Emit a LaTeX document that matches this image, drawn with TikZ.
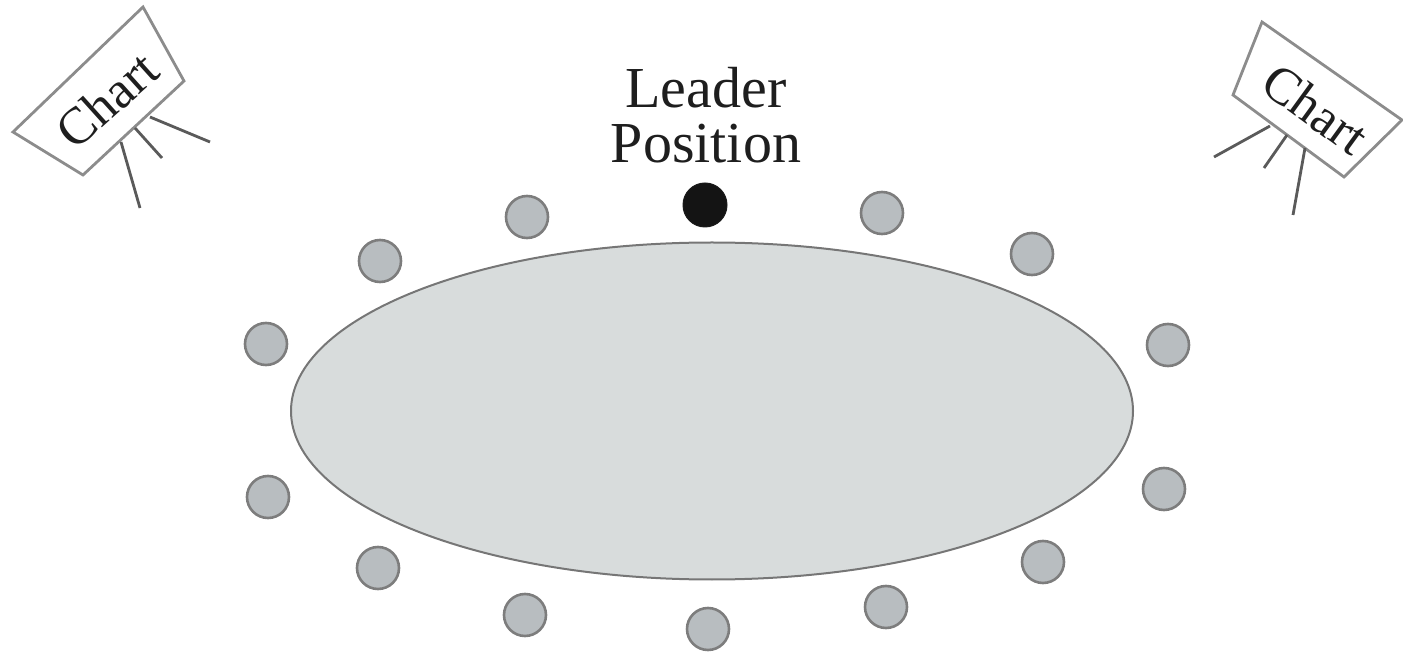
\documentclass[tikz,border=0pt]{standalone}
\usepackage{fontspec}
\setmainfont{Liberation Serif}
\definecolor{seatfill}{HTML}{B8BDC0}
\definecolor{seatdraw}{HTML}{7D7D7D}
\definecolor{tablefill}{HTML}{D8DCDC}
\definecolor{tabledraw}{HTML}{767676}
\definecolor{boxdraw}{HTML}{8C8C8C}
\definecolor{legdraw}{HTML}{5A5A5A}
\definecolor{txt}{HTML}{1E1E1E}
\tikzset{
  seat/.style={circle, draw=seatdraw, fill=seatfill, line width=2.6pt, minimum size=42pt, inner sep=0pt},
  leader/.style={circle, draw=black!90, fill=black!92, line width=1pt, minimum size=44pt, inner sep=0pt},
  chartbox/.style={draw=boxdraw, line width=2.8pt, line join=miter},
  chartleg/.style={draw=legdraw, line width=2.8pt},
  charttext/.style={text=txt, inner sep=0pt, font=\fontsize{52}{60}\selectfont},
}
\begin{document}
\begin{tikzpicture}[x=1pt,y=1pt]
\useasboundingbox (0,0) rectangle (1403,651);
% table
\draw[draw=tabledraw, fill=tablefill, line width=2pt] (712,240) ellipse [x radius=421, y radius=168.5];
% seats
\node[seat] (s1) at (266,307) {};
\node[seat] (s2) at (380,390) {};
\node[seat] (s3) at (527,434) {};
\node[leader] (lead) at (705,446) {};
\node[seat] (s4) at (882,438) {};
\node[seat] (s5) at (1032,397) {};
\node[seat] (s6) at (1168,306) {};
\node[seat] (s7) at (1164,162) {};
\node[seat] (s8) at (1043,89) {};
\node[seat] (s9) at (886,44) {};
\node[seat] (s10) at (708,22) {};
\node[seat] (s11) at (525,36) {};
\node[seat] (s12) at (378,83) {};
\node[seat] (s13) at (268,154) {};
% leader label
\node[text=txt, align=center, anchor=south, inner sep=0pt,
      font=\fontsize{58}{55}\selectfont] (lbl) at (706,488) {Leader\\Position};
% left chart
\draw[chartbox] (13,519) -- (143,644) -- (184,570) -- (83,476) -- cycle;
\node[charttext, rotate=42] (chartL) at (107,551) {Chart};
\draw[chartleg] (150,534) -- (210,509);
\draw[chartleg] (135,523) -- (162,493);
\draw[chartleg] (121,509) -- (140,443);
% right chart
\draw[chartbox] (1262,629) -- (1402,531) -- (1344,474) -- (1233,556) -- cycle;
\node[charttext, rotate=-36] (chartR) at (1316,542) {Chart};
\draw[chartleg] (1270,525) -- (1214,494);
\draw[chartleg] (1287,516) -- (1264,483);
\draw[chartleg] (1305,503) -- (1293,436);
\end{tikzpicture}
\end{document}
